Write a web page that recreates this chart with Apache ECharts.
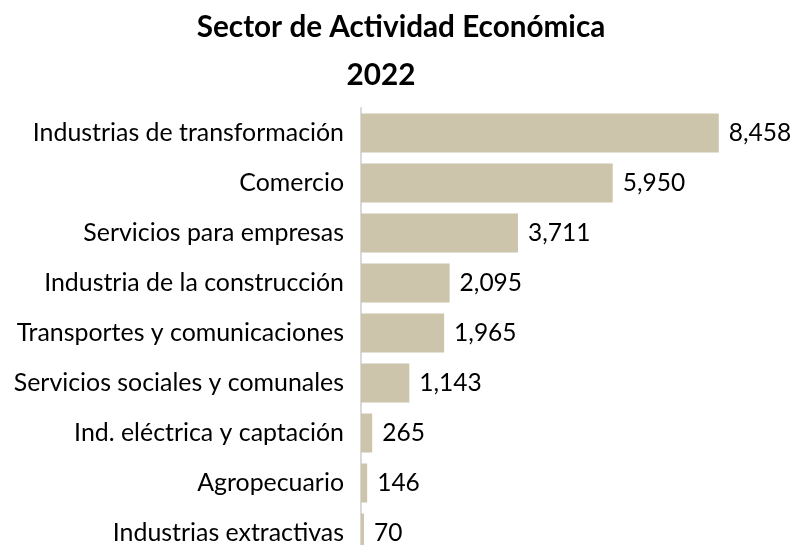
<!DOCTYPE html>
<html>
<head>
<meta charset="utf-8">
<script src="https://cdn.jsdelivr.net/npm/echarts@6/dist/echarts.min.js"></script>
<style>
  html, body { margin: 0; padding: 0; background: #fff; overflow: hidden; }
  #chart { width: 797px; height: 562px; }
</style>
</head>
<body>
<div id="chart"></div>
<script>
// Sectors, top to bottom
const sectors = [
  'Industrias de transformación',
  'Comercio',
  'Servicios para empresas',
  'Industria de la construcción',
  'Transportes y comunicaciones',
  'Servicios sociales y comunales',
  'Ind. eléctrica y captación',
  'Agropecuario',
  'Industrias extractivas'
];
const values2022 = [8458, 5950, 3711, 2095, 1965, 1143, 265, 146, 70];

const titleText = 'Sector de Actividad Económica';
const yearText = '2022';

const FONT = 'Lato, "Open Sans", sans-serif';

const chart = echarts.init(document.getElementById('chart'), null, { renderer: 'canvas' });

chart.setOption({
  backgroundColor: '#ffffff',
  animation: false,
  title: [
    {
      text: titleText,
      left: 396,
      top: 7,
      textAlign: 'center',
      textStyle: { fontFamily: FONT, fontWeight: 'bold', fontSize: 29.7, color: '#000' }
    },
    {
      text: yearText,
      left: 376,
      top: 55,
      textAlign: 'center',
      textStyle: { fontFamily: FONT, fontWeight: 'bold', fontSize: 29.7, color: '#000' }
    }
  ],
  grid: { left: 361, top: 108, width: 423, height: 450, containLabel: false },
  xAxis: {
    type: 'value',
    min: 0,
    max: 10000,
    show: false
  },
  yAxis: {
    type: 'category',
    data: sectors,
    inverse: true,
    axisLine: { show: true, lineStyle: { color: '#D9D9D9', width: 2 } },
    axisTick: { show: false },
    axisLabel: { margin: 17, fontFamily: FONT, fontSize: 24.9, color: '#000' },
    splitLine: { show: false }
  },
  series: [{
    type: 'bar',
    data: values2022,
    barCategoryGap: '22%',
    itemStyle: { color: '#CCC5AB' },
    label: {
      show: true,
      position: 'right',
      distance: 10,
      fontFamily: FONT,
      fontSize: 24.5,
      color: '#000',
      formatter: p => p.value.toLocaleString('en-US')
    }
  }]
});
</script>
</body>
</html>
